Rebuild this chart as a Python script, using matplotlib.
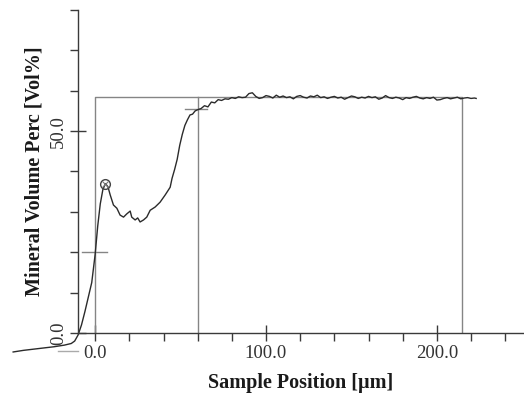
import matplotlib.pyplot as plt
import numpy as np

plt.rcParams['font.family'] = ['Liberation Serif', 'DejaVu Serif']

# profile: position [um] vs mineral volume [Vol%]
pos = [-48, -42, -36, -30, -24, -18, -14, -12, -10, -8, -6, -4, -2, 0,
       1.5, 3, 4.5, 6, 7.5, 8.8, 10.7, 12.7, 14.6, 16.6, 18.5, 20.5, 21.4,
       23.4, 24.9, 26.3, 28.3, 30.2, 32.2, 35.1, 38, 41, 43.9, 45, 46.5,
       48, 49.5, 51, 52.5, 54, 55.5, 57, 58.5, 60,
       62, 64, 66, 68, 70, 72, 74, 76, 78, 80, 82, 84, 86, 88, 90, 92,
       94, 96, 98, 100, 102, 104, 106, 108, 110, 112, 114, 116, 118, 120,
       122, 124, 126, 128, 130, 132, 134, 136, 138, 140, 142, 144, 146,
       148, 150, 152, 154, 156, 158, 160, 162, 164, 166, 168, 170, 172,
       174, 176, 178, 180, 182, 184, 186, 188, 190, 192, 194, 196, 198,
       200, 202, 204, 206, 208, 210, 212, 214, 216, 218, 220, 222, 223]
vol = [-4.7, -4.3, -4.0, -3.7, -3.4, -3.0, -2.6, -2.0, -0.5, 2.0, 5.3,
       8.9, 12.5, 19.5,
       26.5, 32.0, 35.5, 37.0, 36.2, 34.2, 31.7, 30.9, 29.2, 28.7, 29.5,
       30.2, 28.7, 28.0, 28.5, 27.5, 28.0, 28.7, 30.4, 31.2, 32.4, 34.2,
       36.1, 38.3, 40.5, 43.0, 46.5, 49.2, 51.4, 52.8, 54.0, 54.2, 55.0,
       55.3,
       55.6, 56.3, 56.0, 57.2, 57.0, 57.8, 57.6, 58.0, 57.9, 58.3, 58.1,
       58.5, 58.3, 58.4, 59.3, 59.5, 58.6, 58.1, 58.3, 58.8, 58.6, 58.2,
       58.9, 58.4, 58.7, 58.3, 58.5, 58.0, 58.6, 58.8, 58.4, 58.2, 58.7,
       58.5, 58.9, 58.3, 58.5, 58.1, 58.4, 58.6, 58.2, 58.4, 57.9, 58.3,
       58.7, 58.5, 58.1, 58.4, 58.2, 58.6, 58.3, 58.5, 57.9, 58.2, 58.8,
       58.3, 58.1, 58.4, 58.2, 57.8, 58.3, 58.1, 58.4, 58.6, 58.2, 58.0,
       58.3, 58.1, 58.4, 57.7, 57.8, 58.1, 58.3, 58.0, 58.2, 58.4, 58.0,
       58.2, 58.3, 58.1, 58.2, 58.1]

# analysis box and markers
box_left, box_mid, box_right = 0, 60, 215
box_top = 58.4
peak = (6, 37.0)
cross_low = (0, 20.0)
cross_high = (60, 55.4)

fig = plt.figure(figsize=(5.24, 4.0), dpi=100)
ax = fig.add_axes([0.149, 0.1675, 0.851, 0.8075])

grey = '#858585'
ax.plot([box_left, box_left, box_right, box_right], [0, box_top, box_top, 0],
        color=grey, lw=1.0)
ax.plot([box_mid, box_mid], [0, box_top], color=grey, lw=1.0)
ax.plot([cross_low[0] - 7.5, cross_low[0] + 7], [cross_low[1]] * 2,
        color=grey, lw=1.0)
ax.plot([cross_high[0] - 7.5, cross_high[0] + 5.5], [cross_high[1]] * 2,
        color=grey, lw=1.0)
ax.plot([-22, -10], [-4.4, -4.4], color='#aaaaaa', lw=1.0, clip_on=False)

ax.plot(pos, vol, color='#2b2b2b', lw=1.0, clip_on=False)
ax.plot(*peak, marker='o', ms=7, mfc='none', mec='#444444', mew=1.0)
ax.plot(*peak, marker='x', ms=4, mec='#777777', mew=0.8)

ax.set_xlim(-10, 251)
ax.set_ylim(0, 80)
ax.spines['top'].set_visible(False)
ax.spines['right'].set_visible(False)
for s in ('left', 'bottom'):
    ax.spines[s].set_color('#3a3a3a')
    ax.spines[s].set_linewidth(1.0)

ax.set_xticks([0, 100, 200])
ax.set_xticklabels(['0.0', '100.0', '200.0'])
ax.set_xticks(np.arange(20, 260, 20), minor=True)
ax.set_yticks([0, 50])
ax.set_yticklabels(['0.0', '50.0'], rotation=90, va='center')
ax.set_yticks(np.arange(10, 90, 10), minor=True)
ax.tick_params(which='major', direction='inout', length=12, width=1.0,
               color='#3a3a3a', labelsize=13.5, labelcolor='#333333')
ax.tick_params(which='minor', direction='out', length=6, width=1.0,
               color='#3a3a3a')
ax.tick_params(axis='x', which='major', pad=3)
ax.tick_params(axis='y', which='major', pad=2)

ax.set_xlabel('Sample Position [\u00b5m]', fontsize=14.5, fontweight='bold',
              color='#1a1a1a')
ax.set_ylabel('Mineral Volume Perc [Vol%]', fontsize=14.5, fontweight='bold',
              color='#1a1a1a')
ax.xaxis.set_label_coords(0.5, -0.125)
ax.yaxis.set_label_coords(-0.075, 0.5)

fig.savefig('out.png', dpi=100)
